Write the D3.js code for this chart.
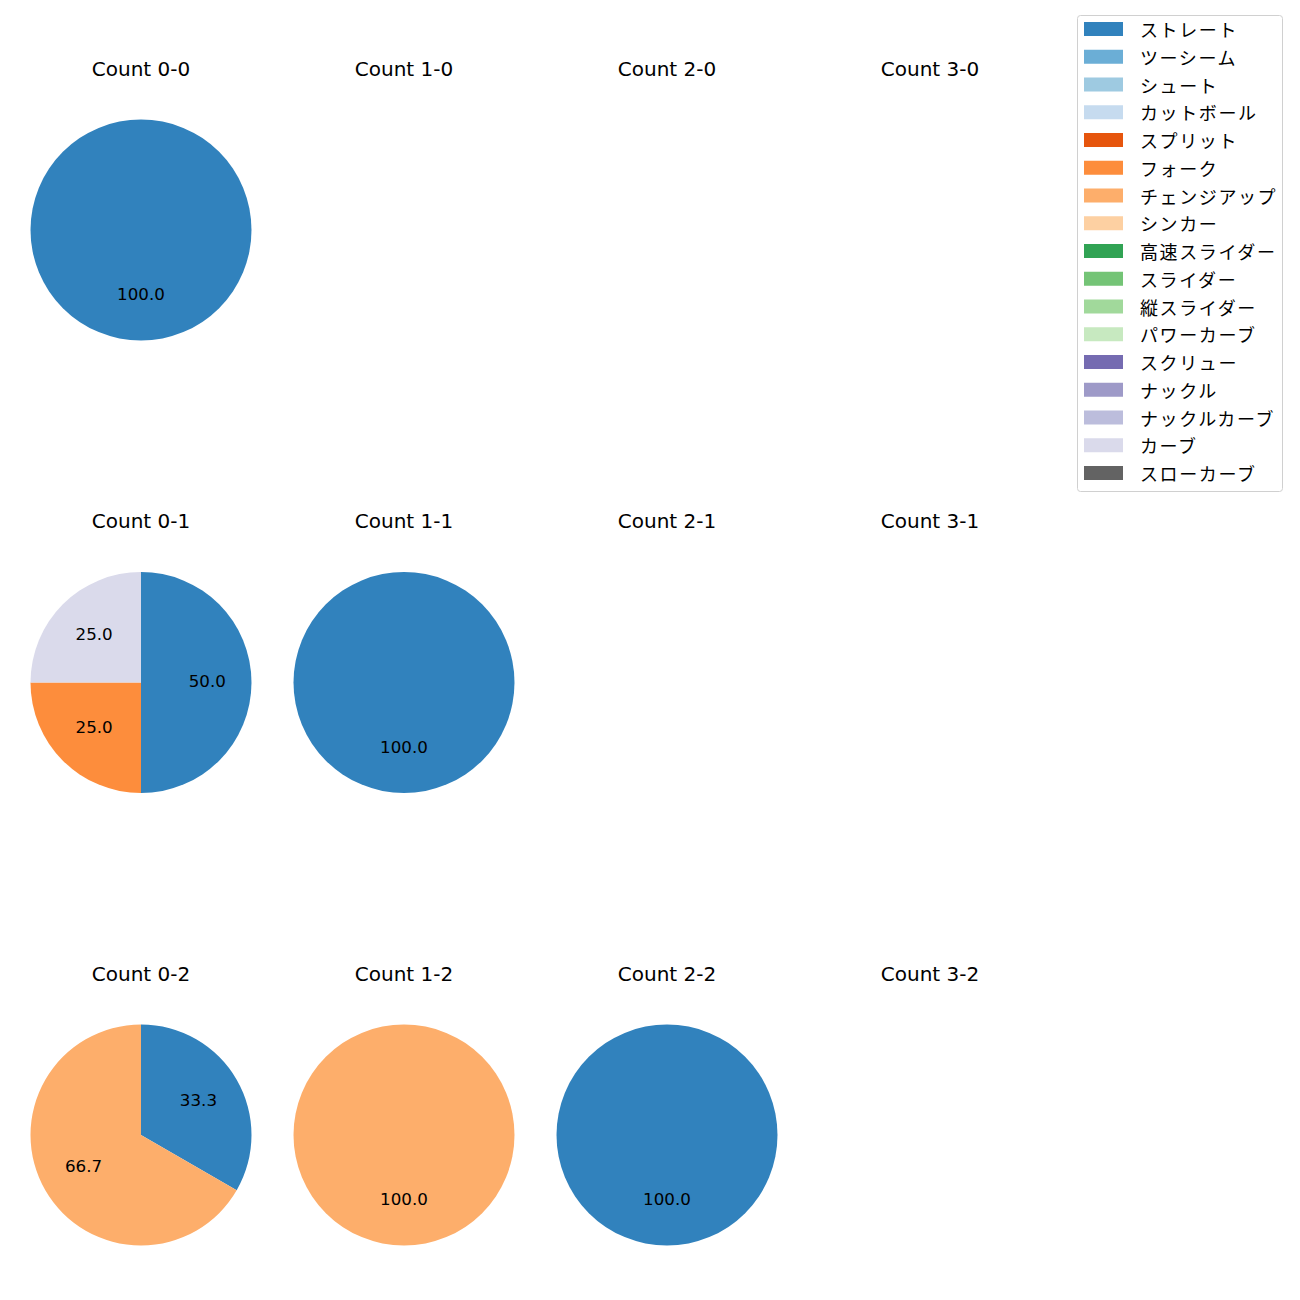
<!DOCTYPE html>
<html><head><meta charset="utf-8">
<script src="https://cdn.jsdelivr.net/npm/d3@7"></script>
<style>body{margin:0;background:#fff}svg{display:block;font-family:"DejaVu Sans","Noto Sans CJK JP",sans-serif}</style>
</head><body>
<script>
const pitchTypes = ["ストレート","ツーシーム","シュート","カットボール","スプリット","フォーク","チェンジアップ","シンカー","高速スライダー","スライダー","縦スライダー","パワーカーブ","スクリュー","ナックル","ナックルカーブ","カーブ","スローカーブ"];
const pitchColors = ["#3182bd","#6baed6","#9ecae1","#c6dbef","#e6550d","#fd8d3c","#fdae6b","#fdd0a2","#31a354","#74c476","#a1d99b","#c7e9c0","#756bb1","#9e9ac8","#bcbddc","#dadaeb","#636363"];
const balls = [0,1,2,3];
const strikes = [0,1,2];
// counts per pitch type for each cell (only non-zero listed)
const count00 = {"ストレート":1};
const count10 = {};
const count20 = {};
const count30 = {};
const count01 = {"ストレート":2,"フォーク":1,"カーブ":1};
const count11 = {"ストレート":1};
const count21 = {};
const count31 = {};
const count02 = {"ストレート":1,"チェンジアップ":2};
const count12 = {"チェンジアップ":1};
const count22 = {"ストレート":1};
const count32 = {};
const cells = [[count00,count10,count20,count30],[count01,count11,count21,count31],[count02,count12,count22,count32]];

const W=1300,H=1300;
const svg=d3.select("body").append("svg").attr("width",W).attr("height",H);
const colX=d3.scalePoint().domain(balls).range([141,930]);
const rowY=d3.scalePoint().domain(strikes).range([230,1135]);
const R=110.5;
const color=d3.scaleOrdinal().domain(pitchTypes).range(pitchColors);
const pie=d3.pie().sort(null).value(d=>d[1]).startAngle(0).endAngle(2*Math.PI);
const arc=d3.arc().innerRadius(0).outerRadius(R);
const labelArc=d3.arc().innerRadius(R*0.6).outerRadius(R*0.6);

strikes.forEach(s=>{
  balls.forEach(b=>{
    const cx=colX(b), cy=rowY(s);
    const g=svg.append("g").attr("transform",`translate(${cx},${cy})`);
    g.append("text").attr("x",0).attr("y",-154.5).attr("text-anchor","middle")
      .attr("font-size",20).attr("fill","#000").text(`Count ${b}-${s}`);
    const data=pitchTypes.map(p=>[p,cells[s][b][p]||0]).filter(d=>d[1]>0);
    if(!data.length) return;
    const total=d3.sum(data,d=>d[1]);
    const arcs=pie(data);
    g.selectAll("path").data(arcs).join("path").attr("d",arc).attr("fill",d=>color(d.data[0]));
    g.selectAll("text.lbl").data(arcs).join("text").attr("class","lbl")
      .attr("transform",d=>{const c=labelArc.centroid(d);return `translate(${c[0]},${c[1]-2})`;})
      .attr("text-anchor","middle").attr("dominant-baseline","central")
      .attr("font-size",16.7).attr("fill","#000")
      .text(d=>(d.data[1]/total*100).toFixed(1));
  });
});

// legend
const lg=svg.append("g");
lg.append("rect").attr("x",1077.5).attr("y",15.5).attr("width",205).attr("height",476).attr("rx",3)
  .attr("fill","#fff").attr("stroke","#d0d0d0");
const ly=d3.scalePoint().domain(pitchTypes).range([29,473]);
pitchTypes.forEach(p=>{
  lg.append("rect").attr("x",1084).attr("y",ly(p)-7).attr("width",39).attr("height",14).attr("fill",color(p));
  lg.append("text").attr("x",1140).attr("y",ly(p)).attr("dominant-baseline","central")
    .attr("font-family","'Noto Sans CJK JP',sans-serif")
    .attr("font-size",18).attr("letter-spacing",1.6).attr("fill","#000").text(p);
});
</script>
</body></html>
